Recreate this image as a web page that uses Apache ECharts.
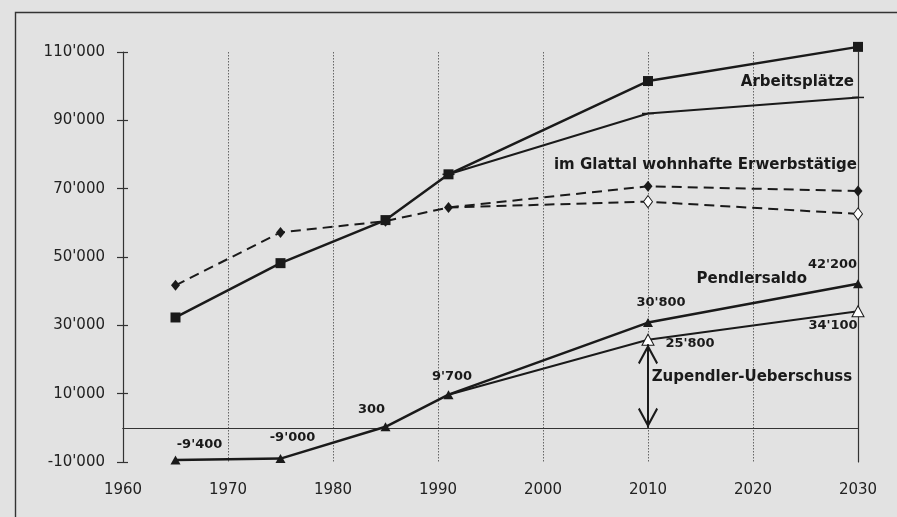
<!DOCTYPE html>
<html>
<head>
<meta charset="utf-8">
<script src="https://cdn.jsdelivr.net/npm/echarts@6/dist/echarts.min.js"></script>
<style>
html,body{margin:0;padding:0;background:#e2e2e2;}
#c{width:897px;height:517px;}
</style>
</head>
<body>
<div id="c"></div>
<script>
// ---- data ----
const years = [1965, 1975, 1985, 1991, 2010, 2030];
const scenarioYears = [1991, 2010, 2030];
const arbeitsplaetze = [32300, 48200, 60800, 74200, 101500, 111500];
const arbeitsplaetzeTief = [74200, 92000, 96700];
const erwerbstaetige = [41700, 57200, 60500, 64500, 70700, 69300];
const erwerbstaetigeTief = [64500, 66200, 62600];
const pendlersaldo = [-9400, -9000, 300, 9700, 30800, 42200];
const pendlersaldoTief = [9700, 25800, 34100];
const textArbeit = 'Arbeitsplätze';
const textErwerb = 'im Glattal wohnhafte Erwerbstätige';
const textPendler = 'Pendlersaldo';
const textZupendler = 'Zupendler-Ueberschuss';

// ---- helpers ----
function fmt(v) {
  const s = String(Math.abs(v)).replace(/\B(?=(\d{3})+(?!\d))/g, "'");
  return (v < 0 ? '-' : '') + s;
}
const INK = '#1a1a1a';
const FONT = 'DejaVu Sans';
const valueLabel = {fontFamily: FONT, fontWeight: 'bold', fontSize: 13, color: INK};
const nameLabel = {fontFamily: FONT, fontWeight: 'bold', fontSize: 15, color: INK};

function pts(xs, ys, opts) {
  return xs.map((x, i) => {
    const item = {value: [x, ys[i]]};
    if (opts && opts[i]) Object.assign(item, opts[i]);
    return item;
  });
}
function vl(v, off) {
  return {label: Object.assign({show: true, position: 'inside', offset: off, formatter: fmt(v)}, valueLabel)};
}
function namePoint(coord, text, off, align) {
  return {
    coord: coord,
    symbol: 'circle', symbolSize: 1,
    itemStyle: {color: 'rgba(0,0,0,0)'},
    label: Object.assign({show: true, position: 'inside', offset: off, align: align, verticalAlign: 'middle', formatter: text}, nameLabel)
  };
}

const pendlerOffsets = [[24, -15], [12, -21], [-14, -17.5], [3.5, -18], [13, -20], [-25.5, -18.6]];
const pendlerTiefOffsets = [null, [42, 4], [-25, 14]];

const chevron = 'path://M10,0 L20,18.6 L18.4,20 L10,4.6 L1.6,20 L0,18.6 Z';
const arrowGap = 1300;

const option = {
  backgroundColor: '#e2e2e2',
  animation: false,
  grid: {left: 123, right: 39, top: 52, bottom: 55},
  graphic: [{
    type: 'rect', left: 13, top: 10, silent: true,
    shape: {width: 1000, height: 1000},
    style: {fill: 'none', stroke: '#333', lineWidth: 1.4}
  }],
  xAxis: [{
    type: 'value', min: 1960, max: 2030, interval: 10,
    axisLine: {show: true, lineStyle: {color: '#333', width: 1.2}},
    axisTick: {show: false},
    axisLabel: {fontFamily: FONT, fontSize: 15, color: '#222', margin: 21, formatter: v => String(v)},
    splitLine: {show: true, lineStyle: {type: [1.5, 1.5], color: '#666', width: 1}}
  }, {
    type: 'value', position: 'top', min: 1960, max: 2030, interval: 10,
    axisLine: {show: true, lineStyle: {color: '#333', width: 1.2}},
    axisTick: {show: false}, axisLabel: {show: false}, splitLine: {show: false}
  }],
  yAxis: [{
    type: 'value', min: -10000, max: 110000, interval: 20000,
    axisLine: {show: true, lineStyle: {color: '#333', width: 1.2}},
    axisTick: {show: true, length: 6, lineStyle: {color: '#333', width: 1.2}},
    axisLabel: {fontFamily: FONT, fontSize: 15, color: '#222', margin: 18, formatter: v => fmt(v)},
    splitLine: {show: false}
  }, {
    type: 'value', position: 'left', min: -10000, max: 110000, interval: 20000,
    axisLine: {show: false},
    axisTick: {show: true, inside: true, length: 5, lineStyle: {color: '#333', width: 1.2}},
    axisLabel: {show: false}, splitLine: {show: false}
  }, {
    type: 'value', position: 'right', min: -10000, max: 110000, interval: 20000,
    axisLine: {show: true, lineStyle: {color: '#333', width: 1.2}},
    axisTick: {show: false}, axisLabel: {show: false}, splitLine: {show: false}
  }],
  series: [
    {
      name: textArbeit, type: 'line', clip: false, z: 5,
      data: pts(years, arbeitsplaetze),
      symbol: 'rect', symbolSize: 10,
      lineStyle: {color: INK, width: 2.5}, itemStyle: {color: INK}
    },
    {
      name: textArbeit + ' (tief)', type: 'line', clip: false, z: 4,
      data: pts(scenarioYears, arbeitsplaetzeTief),
      symbol: 'rect', symbolSize: [12, 1.5],
      lineStyle: {color: INK, width: 2}, itemStyle: {color: INK},
      markPoint: {silent: true, data: [namePoint([scenarioYears[2], arbeitsplaetzeTief[2]], textArbeit, [-4, -15.7], 'right')]}
    },
    {
      name: textErwerb, type: 'line', clip: false, z: 4,
      data: pts(years, erwerbstaetige),
      symbol: 'diamond', symbolSize: [9, 11],
      lineStyle: {color: INK, width: 2, type: [10, 6]}, itemStyle: {color: INK},
      markPoint: {silent: true, data: [namePoint([years[5], erwerbstaetige[5]], textErwerb, [-1, -25.5], 'right')]}
    },
    {
      name: textErwerb + ' (tief)', type: 'line', clip: false, z: 3,
      data: pts(scenarioYears, erwerbstaetigeTief, [{symbol: 'none'}]),
      symbol: 'diamond', symbolSize: [9, 12],
      lineStyle: {color: INK, width: 2, type: [10, 6]},
      itemStyle: {color: '#fff', borderColor: INK, borderWidth: 1}
    },
    {
      name: textPendler, type: 'line', clip: false, z: 5,
      data: pts(years, pendlersaldo, pendlersaldo.map((v, i) => vl(v, pendlerOffsets[i]))),
      symbol: 'triangle', symbolSize: [10, 9],
      lineStyle: {color: INK, width: 2.5}, itemStyle: {color: INK},
      markLine: {
        silent: true, symbol: 'none',
        lineStyle: {color: '#333', width: 1.2, type: 'solid'},
        label: {show: false},
        data: [{yAxis: 0}]
      },
      markPoint: {silent: true, data: [namePoint([years[5], pendlersaldo[5]], textPendler, [-51, -4.3], 'right')]}
    },
    {
      name: textZupendler, type: 'line', clip: false, z: 4,
      data: pts(scenarioYears, pendlersaldoTief, pendlersaldoTief.map((v, i) => i === 0 ? {symbol: 'none'} : vl(v, pendlerTiefOffsets[i]))),
      symbol: 'triangle', symbolSize: [12, 11],
      lineStyle: {color: INK, width: 2},
      itemStyle: {color: '#fff', borderColor: INK, borderWidth: 1},
      markLine: {
        silent: true,
        symbol: [chevron, chevron], symbolSize: [20, 20], symbolOffset: [[0, 10], [0, 10]],
        lineStyle: {color: INK, width: 2, type: 'solid'},
        label: {show: false},
        data: [[{coord: [scenarioYears[1], pendlersaldoTief[1] - arrowGap]}, {coord: [scenarioYears[1], 0]}]]
      },
      markPoint: {silent: true, data: [namePoint([scenarioYears[1], pendlersaldoTief[1]], textZupendler, [3.7, 37], 'left')]}
    }
  ]
};
echarts.init(document.getElementById('c')).setOption(option);
</script>
</body>
</html>
